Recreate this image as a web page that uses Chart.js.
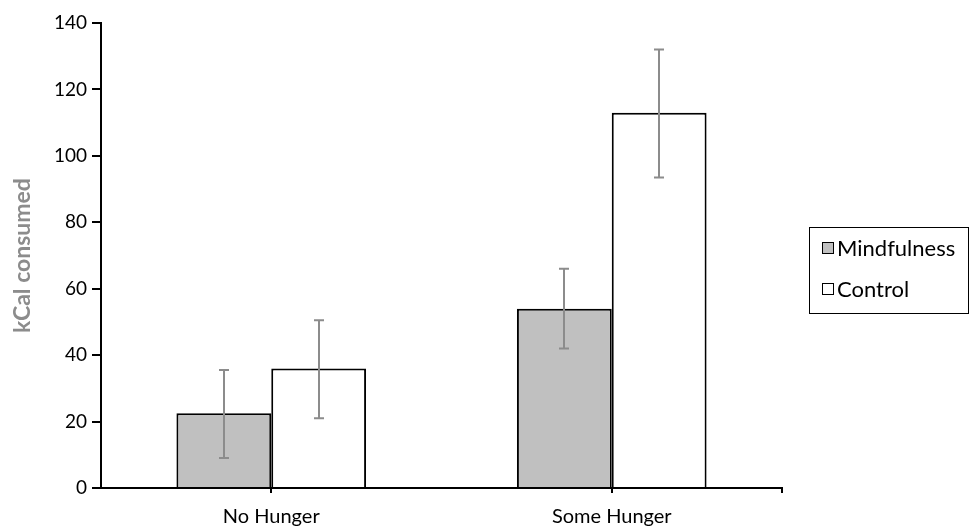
<!DOCTYPE html>
<html>
<head>
<meta charset="utf-8">
<script src="https://cdn.jsdelivr.net/npm/chart.js@4"></script>
<style>
    html, body { margin: 0; padding: 0; background: #fff; }
    #wrap { position: relative; width: 973px; height: 529px; }
    #legend {
        position: absolute; left: 809px; top: 227px; width: 158px; height: 85px;
        border: 1.5px solid #000; font-family: Lato, "Open Sans", sans-serif; font-size: 22px; color: #000;
    }
    .item { position: absolute; left: 12px; display: flex; align-items: center; }
    .swatch { width: 10px; height: 10px; border: 1.5px solid #000; margin-right: 3px; }
</style>
</head>
<body>
<div id="wrap">
    <canvas id="chart" width="973" height="529"></canvas>
    <div id="legend"></div>
</div>
<script>
// --- Data ---
const categories = ['No Hunger', 'Some Hunger'];
const mindfulness = [22.5, 54];
const control = [36, 113];
const mindfulnessLow = [9, 42];
const mindfulnessHigh = [35.5, 66];
const controlLow = [21, 93.5];
const controlHigh = [50.5, 132];
const yTicks = [0, 20, 40, 60, 80, 100, 120, 140];

const seriesStyle = [
    { label: 'Mindfulness', fill: '#c0c0c0' },
    { label: 'Control', fill: '#ffffff' }
];

// error bars drawn on top of the bars, from the low/high arrays
const errorBars = {
    id: 'errorBars',
    afterDatasetsDraw(chart) {
        const ctx = chart.ctx;
        const y = chart.scales.y;
        const ranges = [[mindfulnessLow, mindfulnessHigh], [controlLow, controlHigh]];
        ctx.save();
        ctx.strokeStyle = '#8c8c8c';
        ctx.lineWidth = 2;
        chart.data.datasets.forEach((ds, i) => {
            const meta = chart.getDatasetMeta(i);
            meta.data.forEach((bar, j) => {
                const lo = y.getPixelForValue(ranges[i][0][j]);
                const hi = y.getPixelForValue(ranges[i][1][j]);
                const x = Math.round(bar.x);
                ctx.beginPath();
                ctx.moveTo(x, lo); ctx.lineTo(x, hi);
                ctx.moveTo(x - 5, lo); ctx.lineTo(x + 5, lo);
                ctx.moveTo(x - 5, hi); ctx.lineTo(x + 5, hi);
                ctx.stroke();
            });
        });
        // tick at right end of x axis
        const xs = chart.scales.x;
        ctx.strokeStyle = '#000';
        ctx.beginPath();
        ctx.moveTo(xs.right, y.bottom); ctx.lineTo(xs.right, y.bottom + 5);
        ctx.stroke();
        ctx.restore();
    }
};

const ctx = document.getElementById('chart').getContext('2d');
new Chart(ctx, {
    type: 'bar',
    data: {
        labels: categories,
        datasets: [
            {
                label: seriesStyle[0].label, data: mindfulness,
                backgroundColor: seriesStyle[0].fill, borderColor: '#000', borderWidth: 2,
                barPercentage: 1, categoryPercentage: 0.557
            },
            {
                label: seriesStyle[1].label, data: control,
                backgroundColor: seriesStyle[1].fill, borderColor: '#000', borderWidth: 2,
                barPercentage: 1, categoryPercentage: 0.557
            }
        ]
    },
    options: {
        responsive: false,
        animation: false,
        layout: { padding: { top: 23, right: 191, left: 0, bottom: 0 } },
        plugins: { legend: { display: false }, tooltip: { enabled: false } },
        scales: {
            x: {
                grid: { display: true, drawOnChartArea: false, offset: false, tickLength: 5, color: '#000', lineWidth: 2 },
                border: { color: '#000', width: 2 },
                ticks: { color: '#000', padding: 12, font: { family: 'Lato', size: 20 } },
                afterFit: s => { s.height = 41; }
            },
            y: {
                min: 0, max: 140,
                afterBuildTicks: s => { s.ticks = yTicks.map(v => ({ value: v })); },
                grid: { display: true, drawOnChartArea: false, tickLength: 9, color: '#000', lineWidth: 2 },
                border: { color: '#000', width: 2 },
                ticks: { color: '#000', padding: 5, font: { family: 'Lato', size: 19 } },
                title: {
                    display: true, text: 'kCal consumed', color: '#8c8c8c',
                    font: { family: 'Lato', size: 23, weight: 'bold' }, padding: { top: 9, bottom: 10 }
                },
                afterFit: s => { s.width = 101; }
            }
        }
    },
    plugins: [errorBars]
});

// legend as html, built from the series
const legend = document.getElementById('legend');
seriesStyle.forEach((s, i) => {
    const item = document.createElement('div');
    item.className = 'item';
    item.style.top = (i === 0 ? 6 : 47) + 'px';
    item.innerHTML = `<span class="swatch" style="background:${s.fill}"></span><span>${s.label}</span>`;
    legend.appendChild(item);
});
</script>
</body>
</html>
